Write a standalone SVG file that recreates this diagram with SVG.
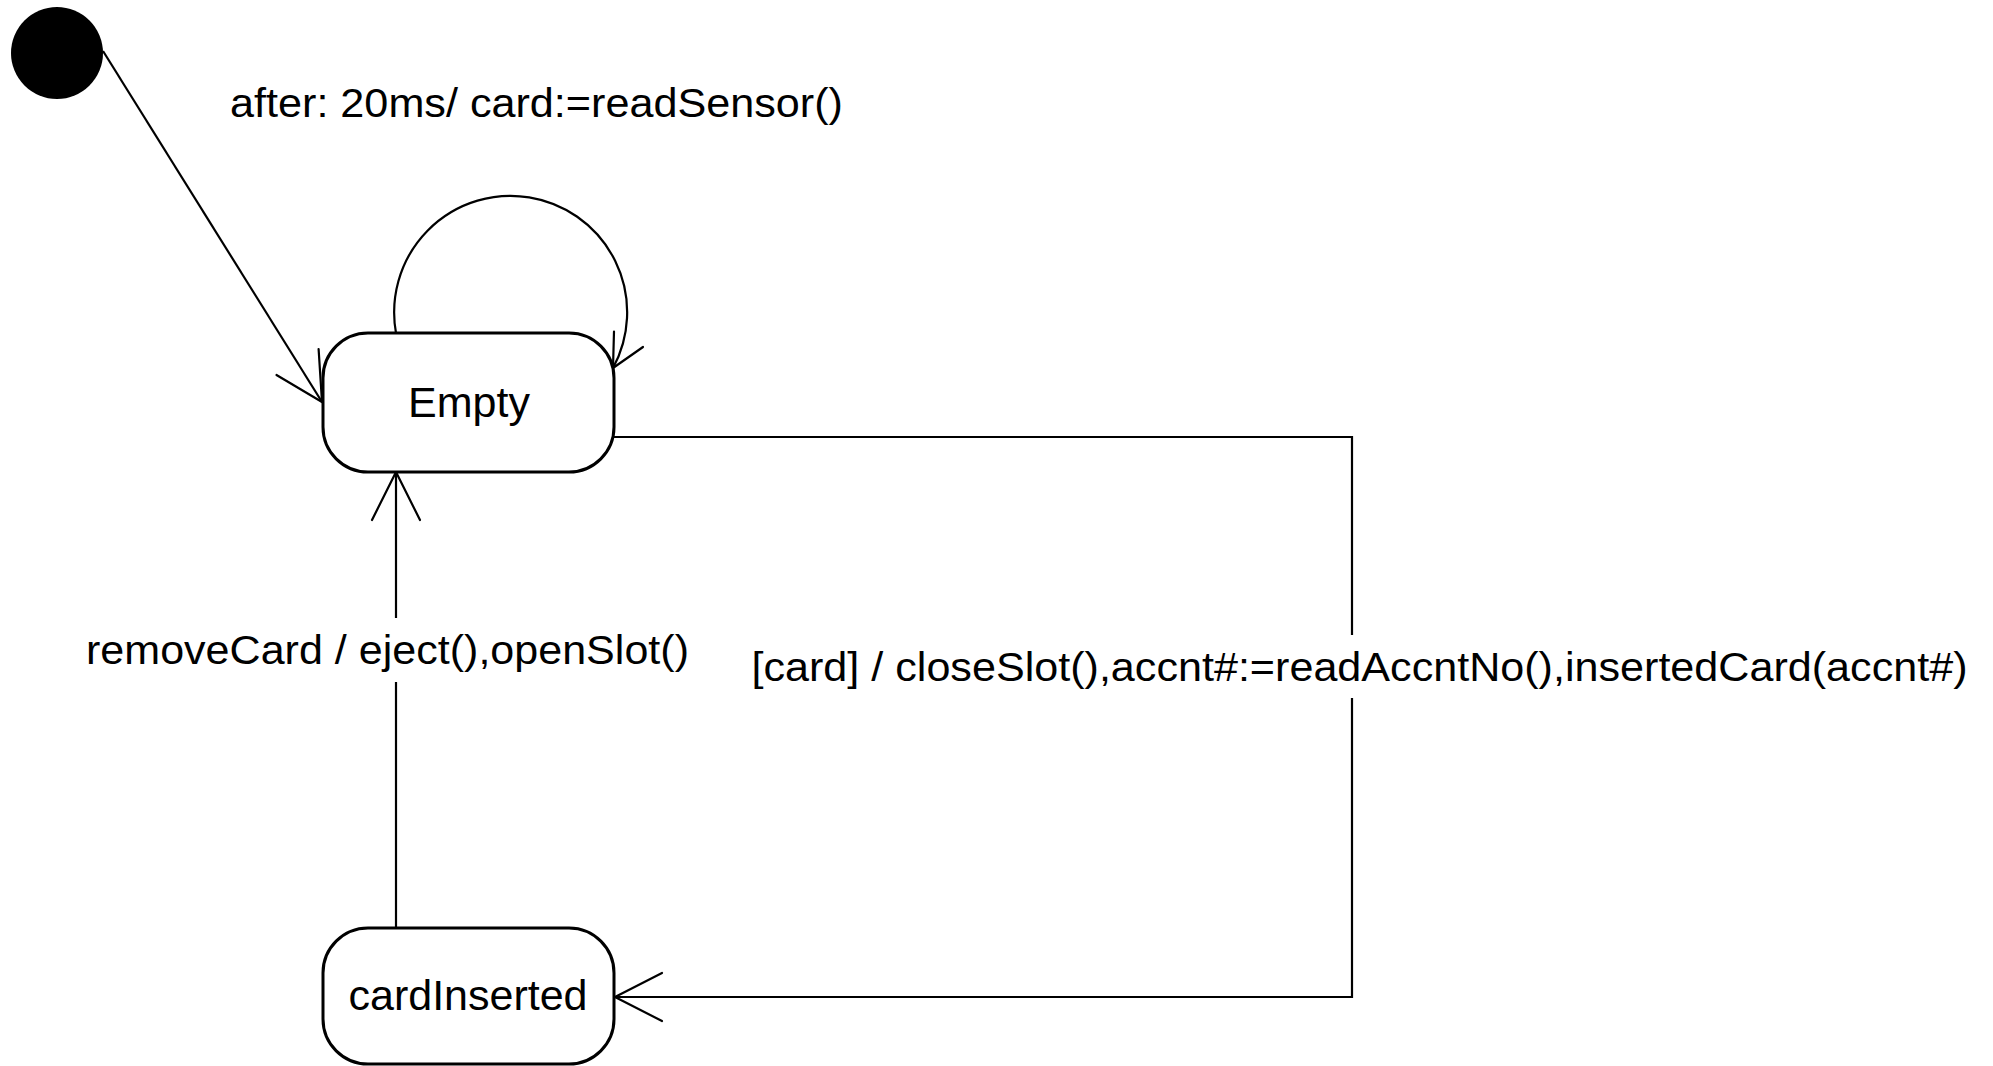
<svg xmlns="http://www.w3.org/2000/svg" width="1993" height="1066" viewBox="0 0 1993 1066">
  <style>
    .state { fill: #ffffff; stroke: #000000; stroke-width: 3; }
    .initial { fill: #000000; stroke: none; }
    .edge { fill: none; stroke: #000000; stroke-width: 2.2; }
    .head { fill: none; stroke: #000000; stroke-width: 2.2; stroke-linecap: round; stroke-linejoin: round; }
    .name { font-family: "Liberation Sans", Arial, sans-serif; font-size: 43px; fill: #000000; text-anchor: middle; }
    .label { font-family: "Liberation Sans", Arial, sans-serif; font-size: 41px; fill: #000000; }
  </style>
  <rect width="1993" height="1066" fill="#ffffff"/>

  <!-- transitions -->
  <g id="connectors">
    <!-- initial pseudostate to Empty -->
    <g id="edge-initial">
      <line class="edge" x1="103" y1="51" x2="322" y2="402"/>
      <polyline class="head" points="276.5,375 322,402 318.6,349"/>
      <text class="label" x="230" y="117" textLength="613" lengthAdjust="spacingAndGlyphs">after: 20ms/ card:=readSensor()</text>
    </g>
    <!-- self transition on Empty -->
    <g id="edge-self">
      <path class="edge" d="M396,333 A116.5,116.5 0 1 1 613,368"/>
      <polyline class="head" points="614,331.5 613,368 643,347"/>
    </g>
    <!-- Empty to cardInserted -->
    <g id="edge-insert">
      <polyline class="edge" points="614,437 1352,437 1352,635"/>
      <polyline class="edge" points="1352,698 1352,997 615,997"/>
      <polyline class="head" points="662,973 615,997 662,1021"/>
      <text class="label" x="751.5" y="681" textLength="1216" lengthAdjust="spacingAndGlyphs">[card] / closeSlot(),accnt#:=readAccntNo(),insertedCard(accnt#)</text>
    </g>
    <!-- cardInserted back to Empty -->
    <g id="edge-remove">
      <line class="edge" x1="396" y1="928" x2="396" y2="682"/>
      <line class="edge" x1="396" y1="618" x2="396" y2="472"/>
      <polyline class="head" points="372,520 396,472 420,520"/>
      <text class="label" x="86" y="664" textLength="603" lengthAdjust="spacingAndGlyphs">removeCard / eject(),openSlot()</text>
    </g>
  </g>

  <!-- states -->
  <g id="initial">
    <circle class="initial" cx="57" cy="53" r="46"/>
  </g>
  <g id="empty">
    <rect class="state" x="323" y="333" width="291" height="139" rx="45" ry="45"/>
    <text class="name" x="469" y="417">Empty</text>
  </g>
  <g id="cardInserted">
    <rect class="state" x="323" y="928" width="291" height="136" rx="45" ry="45"/>
    <text class="name" x="468" y="1010">cardInserted</text>
  </g>
</svg>
